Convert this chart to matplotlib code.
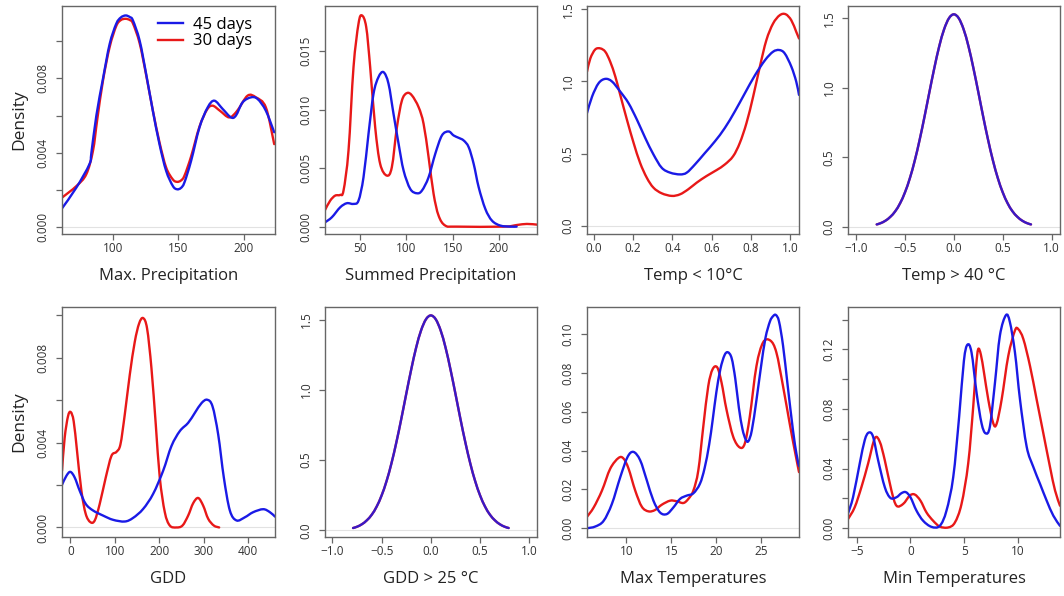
import matplotlib
matplotlib.use('Agg')
import matplotlib.pyplot as plt
from matplotlib.path import Path
from matplotlib.patches import PathPatch
from matplotlib.lines import Line2D

plt.rcParams['font.family'] = ['Open Sans', 'DejaVu Sans']

BLUE = '#1a1ae6'
RED = '#e81818'
FRAME = '#666666'

# ---- Max. Precipitation (45 days / 30 days)
maxp_x45 = [61, 72, 82, 83.5, 87.3, 92.4, 97.5, 102.5, 106, 109.7, 113, 115.3, 120.4, 125.4, 130.5,
            135.6, 140.7, 145.8, 149, 152, 154.7, 159.8, 166.2, 172.5, 177.6, 184, 190.3, 194.1,
            199.2, 205.6, 210.7, 217, 223.4]
maxp_y45 = [0.0010, 0.00212, 0.00338, 0.0040, 0.0060, 0.0080, 0.00986, 0.01094, 0.01128, 0.01139,
            0.01130, 0.01112, 0.01004, 0.00824, 0.00626, 0.00446, 0.00302, 0.00221, 0.00203, 0.00210,
            0.0024, 0.00356, 0.00536, 0.00644, 0.0068, 0.00635, 0.0059, 0.0060, 0.00671, 0.00698,
            0.00689, 0.00626, 0.0051]
maxp_x30 = [61, 72, 79.6, 84.7, 88, 92.4, 97.5, 102.5, 106, 109.7, 113, 115.3, 120.4, 125.4, 130.5,
            135.6, 140.7, 145.8, 149, 152, 154.7, 159.8, 166.2, 172, 176.3, 182, 189, 195, 203,
            209.4, 217, 223.4]
maxp_y30 = [0.00158, 0.0022, 0.00284, 0.0041, 0.0058, 0.0079, 0.0097, 0.01082, 0.01114, 0.01121,
            0.01114, 0.01096, 0.0099, 0.00818, 0.00628, 0.00456, 0.00320, 0.00256, 0.00243, 0.00250,
            0.00276, 0.00380, 0.00540, 0.00632, 0.00653, 0.00625, 0.0059, 0.00625, 0.00707,
            0.00698, 0.00644, 0.00446]

# ---- Summed Precipitation
sump_x45 = [12.1, 19.4, 28.4, 35.6, 42.8, 48.2, 53.6, 59, 64.4, 69.8, 75.2, 80.6, 86, 91.5, 96.9,
            104.1, 111.3, 116.7, 123.9, 131.1, 138.3, 145.5, 150.9, 156.3, 161.8, 167.2, 172.6,
            178, 185.2, 192.4, 201.4, 212.2, 219]
sump_y45 = [0.00037, 0.0008, 0.00165, 0.0020, 0.00194, 0.00222, 0.00422, 0.00793, 0.01135, 0.01278,
            0.0132, 0.01221, 0.00964, 0.00707, 0.00479, 0.00322, 0.00285, 0.00308, 0.00422, 0.00622,
            0.00779, 0.00813, 0.00779, 0.00759, 0.00736, 0.00679, 0.00536, 0.00337, 0.00151,
            0.00051, 0.00009, 0.0, 0.0]
sump_x30 = [12.1, 17.6, 23, 28.4, 32, 37.4, 42.8, 48.2, 51.8, 56.5, 60.8, 66.2, 71.6, 78.8, 84.2,
            89.7, 95.1, 100.5, 105.9, 113.1, 118.5, 123.9, 129.3, 134.7, 141.9, 154.5, 205, 219.4,
            230, 241]
sump_y30 = [0.00143, 0.00222, 0.00265, 0.00271, 0.00308, 0.0065, 0.01363, 0.01734, 0.01805, 0.01706,
            0.01363, 0.0085, 0.00536, 0.00436, 0.00508, 0.0085, 0.01078, 0.01141, 0.01121, 0.01021,
            0.00878, 0.00593, 0.0028, 0.00094, 0.00009, 0.0, 0.0, 0.00014, 0.00023, 0.00017]

# ---- Temp < 10°C
t10_x45 = [-0.034, -0.008, 0.025, 0.059, 0.093, 0.135, 0.177, 0.22, 0.262, 0.304, 0.346, 0.389,
           0.439, 0.473, 0.515, 0.566, 0.617, 0.667, 0.718, 0.769, 0.821, 0.872, 0.912, 0.943,
           0.971, 1.005, 1.03, 1.044]
t10_y45 = [0.781, 0.896, 0.988, 1.018, 1.0, 0.93, 0.85, 0.735, 0.609, 0.494, 0.402, 0.368, 0.356,
           0.368, 0.425, 0.505, 0.586, 0.678, 0.793, 0.919, 1.045, 1.149, 1.206, 1.218, 1.195,
           1.103, 0.999, 0.907]
t10_x30 = [-0.034, -0.017, 0.008, 0.034, 0.059, 0.084, 0.11, 0.135, 0.169, 0.203, 0.236, 0.27,
           0.304, 0.346, 0.397, 0.439, 0.481, 0.524, 0.574, 0.625, 0.667, 0.709, 0.743, 0.777,
           0.811, 0.845, 0.878, 0.912, 0.946, 0.976, 1.005, 1.03, 1.044]
t10_y30 = [1.068, 1.16, 1.222, 1.229, 1.206, 1.137, 1.034, 0.907, 0.735, 0.574, 0.436, 0.333,
           0.264, 0.225, 0.207, 0.218, 0.253, 0.299, 0.345, 0.386, 0.425, 0.482, 0.574, 0.712,
           0.896, 1.103, 1.286, 1.401, 1.459, 1.466, 1.424, 1.344, 1.298]

# ---- Temp > 40 °C and GDD > 25 °C (both periods give the same curve)
centered_x = [-0.79, -0.75, -0.7, -0.65, -0.6, -0.55, -0.5, -0.45, -0.4, -0.35, -0.3, -0.25, -0.2,
              -0.15, -0.1, -0.05, 0.0, 0.05, 0.1, 0.15, 0.2, 0.25, 0.3, 0.35, 0.4, 0.45, 0.5, 0.55,
              0.6, 0.65, 0.7, 0.75, 0.79]
centered_y = [0.016, 0.025, 0.043, 0.071, 0.111, 0.169, 0.248, 0.350, 0.477, 0.627, 0.794, 0.971,
              1.143, 1.299, 1.422, 1.502, 1.53, 1.502, 1.422, 1.299, 1.143, 0.971, 0.794, 0.627,
              0.477, 0.350, 0.248, 0.169, 0.111, 0.071, 0.043, 0.025, 0.016]

# ---- GDD
gdd_x45 = [-18.8, -9, 0, 9.8, 21, 34.5, 51, 73.5, 96, 122.3, 141, 163.5, 186, 208.5, 227.3, 246,
           264.8, 279.8, 294.8, 307.5, 319.5, 332.3, 345, 358.5, 373.5, 392.3, 411, 433.5, 448.5, 460]
gdd_y45 = [0.00201, 0.00243, 0.00262, 0.00235, 0.00173, 0.00111, 0.0008, 0.00056, 0.00036, 0.00028,
           0.00045, 0.00087, 0.00158, 0.00267, 0.00384, 0.00454, 0.00493, 0.0054, 0.00586, 0.00602,
           0.00571, 0.00438, 0.00235, 0.0008, 0.00033, 0.00048, 0.00072, 0.00086, 0.00072, 0.00051]
gdd_x30 = [-18.8, -12.8, -5.3, 0.75, 7.5, 15, 24.8, 34.5, 45, 54.8, 66, 79.5, 92.3, 103.5, 112.5,
           122.3, 133.5, 144.8, 154.5, 163.5, 172.5, 182.3, 192, 201, 212.3, 223.5, 238.5, 252,
           264.8, 276, 287.3, 298.5, 309.8, 322.5, 334.5]
gdd_y30 = [0.00267, 0.00423, 0.00524, 0.00544, 0.005, 0.0036, 0.00173, 0.00064, 0.00025, 0.00033,
           0.00111, 0.00235, 0.00337, 0.00356, 0.00391, 0.00532, 0.00719, 0.00875, 0.00961, 0.00987,
           0.00937, 0.0075, 0.00485, 0.00235, 0.00072, 0.00009, 0.0, 0.00009, 0.00056, 0.00114,
           0.00139, 0.00103, 0.00041, 0.00009, 0.0]

# ---- Max Temperatures
tmax_x45 = [5.65, 6.57, 7.49, 8.41, 9.34, 10.15, 10.81, 11.55, 12.29, 13.02, 13.76, 14.5, 15.23,
            15.97, 16.71, 17.45, 18.18, 18.7, 19.2, 19.6, 20.0, 20.45, 20.9, 21.28, 21.7, 22.1,
            22.5, 22.9, 23.25, 23.55, 23.94, 24.45, 24.95, 25.45, 25.95, 26.3, 26.6, 26.95, 27.4,
            27.9, 28.5, 28.9, 29.17]
tmax_y45 = [0.0, 0.0009, 0.0038, 0.0125, 0.0263, 0.0367, 0.0393, 0.035, 0.0246, 0.0142, 0.0081,
            0.0073, 0.0107, 0.0151, 0.0168, 0.018, 0.0229, 0.031, 0.043, 0.056, 0.070, 0.082,
            0.089, 0.0906, 0.0875, 0.077, 0.062, 0.051, 0.0458, 0.0448, 0.0505, 0.066, 0.083,
            0.098, 0.1065, 0.1092, 0.1098, 0.1065, 0.094, 0.074, 0.0505, 0.038, 0.032]
tmax_x30 = [5.65, 6.39, 7.31, 8.23, 9.15, 9.7, 10.26, 11, 11.73, 12.47, 13.2, 13.94, 14.87, 15.6,
            16.34, 16.89, 17.45, 18, 18.55, 19.1, 19.58, 20.1, 20.58, 21.13, 21.87, 22.6, 23.16,
            23.71, 24.45, 25.19, 26.0, 26.66, 27.4, 28.13, 28.69, 29.17]
tmax_y30 = [0.0059, 0.0107, 0.0194, 0.0307, 0.0362, 0.0359, 0.0307, 0.0194, 0.0111, 0.0087, 0.0094,
            0.0121, 0.0142, 0.0139, 0.013, 0.0151, 0.0194, 0.0298, 0.0523, 0.0731, 0.0818, 0.0828,
            0.0749, 0.061, 0.0471, 0.0416, 0.0437, 0.0575, 0.0835, 0.0957, 0.0966, 0.0905, 0.0731,
            0.0541, 0.0402, 0.0289]

# ---- Min Temperatures
tmin_x45 = [-5.81, -5.34, -4.72, -4.25, -3.88, -3.48, -3.01, -2.39, -1.86, -1.3, -0.84, -0.43, 0,
            0.56, 1.18, 1.96, 2.73, 3.35, 3.98, 4.53, 4.97, 5.3, 5.68, 6.15, 6.61, 6.99, 7.39,
            7.86, 8.32, 8.88, 9.25, 9.72, 10.19, 10.81, 11.43, 12.05, 12.67, 13.29, 13.91]
tmin_y45 = [0.0099, 0.0208, 0.0434, 0.0592, 0.0642, 0.0615, 0.0457, 0.0276, 0.0203, 0.0208, 0.0235,
            0.0242, 0.0208, 0.0118, 0.005, 0.0009, 0.0016, 0.0118, 0.0344, 0.075, 0.1123, 0.1232,
            0.118, 0.0909, 0.0705, 0.0637, 0.0683, 0.0976, 0.1293, 0.1430, 0.1383, 0.118, 0.0863,
            0.0547, 0.0411, 0.0298, 0.0185, 0.0084, 0.0016]
tmin_x30 = [-5.81, -5.19, -4.56, -3.94, -3.32, -2.86, -2.39, -1.77, -1.3, -0.68, -0.06, 0.4, 0.93,
            1.49, 2.11, 2.73, 3.51, 4.13, 4.75, 5.37, 5.84, 6.1, 6.3, 6.55, 6.85, 7.24, 7.7, 8.01,
            8.48, 9.1, 9.72, 10.03, 10.5, 11.12, 11.74, 12.36, 12.98, 13.45, 13.91]
tmin_y30 = [0.0061, 0.014, 0.0276, 0.0434, 0.0603, 0.0581, 0.0457, 0.0253, 0.0151, 0.0163, 0.0219,
            0.0226, 0.0185, 0.0106, 0.005, 0.0011, 0.0005, 0.0038, 0.0163, 0.0434, 0.0818, 0.108,
            0.1202, 0.1165, 0.104, 0.0863, 0.0705, 0.0700, 0.0863, 0.1157, 0.1327, 0.1336, 0.127,
            0.1089, 0.0863, 0.0637, 0.0411, 0.0253, 0.0151]

W, H = 1064, 596
LW = 1.7


def axes_at(fig, left, top, right, bottom):
    """Add axes given a box in pixel coordinates measured from the top-left."""
    return fig.add_axes([left / W, 1 - bottom / H, (right - left) / W, (bottom - top) / H])


def smooth_curve(ax, xs, ys, color, alpha=1.0):
    """Draw a curve through the read points as a Catmull-Rom style Bezier path."""
    pts = list(zip(xs, ys))
    verts = [pts[0]]
    codes = [Path.MOVETO]
    n = len(pts)
    for i in range(n - 1):
        p0 = pts[max(i - 1, 0)]
        p1 = pts[i]
        p2 = pts[i + 1]
        p3 = pts[min(i + 2, n - 1)]
        c1 = (p1[0] + (p2[0] - p0[0]) / 6, p1[1] + (p2[1] - p0[1]) / 6)
        c2 = (p2[0] - (p3[0] - p1[0]) / 6, p2[1] - (p3[1] - p1[1]) / 6)
        verts += [c1, c2, p2]
        codes += [Path.CURVE4] * 3
    patch = PathPatch(Path(verts, codes), facecolor='none', edgecolor=color, lw=LW,
                      alpha=alpha, capstyle='round', joinstyle='round')
    ax.add_patch(patch)


def style_axes(ax, xlim, ylim, xticks, xlabels, yticks, ylabels, xlabel):
    ax.set_xlim(*xlim)
    ax.set_ylim(*ylim)
    ax.axhline(0, color='#e2e2e2', lw=0.8, zorder=0)
    for sp in ax.spines.values():
        sp.set_color(FRAME)
        sp.set_linewidth(1.0)
    ax.set_xticks(xticks)
    ax.set_xticklabels(xlabels)
    ax.set_yticks(yticks)
    ax.set_yticklabels(ylabels, rotation=90, va='center')
    ax.tick_params(axis='both', length=4, width=0.9, color=FRAME, labelsize=8.5, labelcolor='#333333')
    ax.tick_params(axis='x', pad=2)
    ax.tick_params(axis='y', pad=5)
    ax.set_xlabel(xlabel, fontsize=12, labelpad=9, color='#222222')


def draw_pair(ax, x45, y45, x30, y30, alpha45=1.0):
    smooth_curve(ax, x30, y30, RED)
    smooth_curve(ax, x45, y45, BLUE, alpha=alpha45)


def half_labels(ticks, fmt):
    return [fmt.format(t) if i % 2 == 0 else '' for i, t in enumerate(ticks)]


def minus(labels):
    return [s.replace('-', '\u2212') for s in labels]


fig = plt.figure(figsize=(W / 100, H / 100), dpi=100)

cols = [(62, 275), (325, 537), (587, 799), (848, 1060)]
row1 = (6, 234)
row2 = (307, 537)

# Panel 1
ax = axes_at(fig, cols[0][0], row1[0], cols[0][1], row1[1])
draw_pair(ax, maxp_x45, maxp_y45, maxp_x30, maxp_y30)
yt = [0.0, 0.002, 0.004, 0.006, 0.008, 0.010]
style_axes(ax, (61, 224), (-0.00038, 0.0119), [100, 150, 200], ['100', '150', '200'],
           yt, half_labels(yt, '{:.3f}'), 'Max. Precipitation')
ax.set_ylabel('Density', fontsize=12.5, labelpad=7, color='#222222')
handles = [Line2D([], [], color=BLUE, lw=LW), Line2D([], [], color=RED, lw=LW)]
ax.legend(handles, ['45 days', '30 days'], loc='upper right', bbox_to_anchor=(0.93, 0.99),
          frameon=False, fontsize=12, borderpad=0, labelspacing=0.05, handlelength=1.5,
          handletextpad=0.55)

# Panel 2
ax = axes_at(fig, cols[1][0], row1[0], cols[1][1], row1[1])
draw_pair(ax, sump_x45, sump_y45, sump_x30, sump_y30)
yt = [0.0, 0.005, 0.010, 0.015]
style_axes(ax, (12, 241), (-0.00063, 0.01885), [50, 100, 150, 200], ['50', '100', '150', '200'],
           yt, ['{:.3f}'.format(v) for v in yt], 'Summed Precipitation')

# Panel 3
ax = axes_at(fig, cols[2][0], row1[0], cols[2][1], row1[1])
draw_pair(ax, t10_x45, t10_y45, t10_x30, t10_y30)
xt = [0.0, 0.2, 0.4, 0.6, 0.8, 1.0]
yt = [0.0, 0.5, 1.0, 1.5]
style_axes(ax, (-0.034, 1.044), (-0.057, 1.523), xt, ['{:.1f}'.format(v) for v in xt],
           yt, ['{:.1f}'.format(v) for v in yt], 'Temp < 10°C')

# Panel 4
ax = axes_at(fig, cols[3][0], row1[0], cols[3][1], row1[1])
draw_pair(ax, centered_x, centered_y, centered_x, centered_y, alpha45=0.85)
xt = [-1.0, -0.5, 0.0, 0.5, 1.0]
style_axes(ax, (-1.084, 1.087), (-0.053, 1.59), xt, minus(['{:.1f}'.format(v) for v in xt]),
           yt, ['{:.1f}'.format(v) for v in yt], 'Temp > 40 °C')

# Panel 5
ax = axes_at(fig, cols[0][0], row2[0], cols[0][1], row2[1])
draw_pair(ax, gdd_x45, gdd_y45, gdd_x30, gdd_y30)
yt = [0.0, 0.002, 0.004, 0.006, 0.008, 0.010]
style_axes(ax, (-18.8, 460), (-0.00045, 0.01039), [0, 100, 200, 300, 400],
           ['0', '100', '200', '300', '400'], yt, half_labels(yt, '{:.3f}'), 'GDD')
ax.set_ylabel('Density', fontsize=12.5, labelpad=7, color='#222222')

# Panel 6
ax = axes_at(fig, cols[1][0], row2[0], cols[1][1], row2[1])
draw_pair(ax, centered_x, centered_y, centered_x, centered_y, alpha45=0.85)
yt = [0.0, 0.5, 1.0, 1.5]
style_axes(ax, (-1.075, 1.078), (-0.048, 1.59), xt, minus(['{:.1f}'.format(v) for v in xt]),
           yt, ['{:.1f}'.format(v) for v in yt], 'GDD > 25 °C')

# Panel 7
ax = axes_at(fig, cols[2][0], row2[0], cols[2][1], row2[1])
draw_pair(ax, tmax_x45, tmax_y45, tmax_x30, tmax_y30)
yt = [0.0, 0.02, 0.04, 0.06, 0.08, 0.10]
style_axes(ax, (5.65, 29.17), (-0.0045, 0.1139), [10, 15, 20, 25], ['10', '15', '20', '25'],
           yt, ['{:.2f}'.format(v) for v in yt], 'Max Temperatures')

# Panel 8
ax = axes_at(fig, cols[3][0], row2[0], cols[3][1], row2[1])
draw_pair(ax, tmin_x45, tmin_y45, tmin_x30, tmin_y30)
yt = [0.0, 0.02, 0.04, 0.06, 0.08, 0.10, 0.12, 0.14]
style_axes(ax, (-5.81, 13.91), (-0.0059, 0.1485), [-5, 0, 5, 10], minus(['-5', '0', '5', '10']),
           yt, half_labels(yt, '{:.2f}'), 'Min Temperatures')

fig.savefig('out.png', dpi=100, facecolor='white')
